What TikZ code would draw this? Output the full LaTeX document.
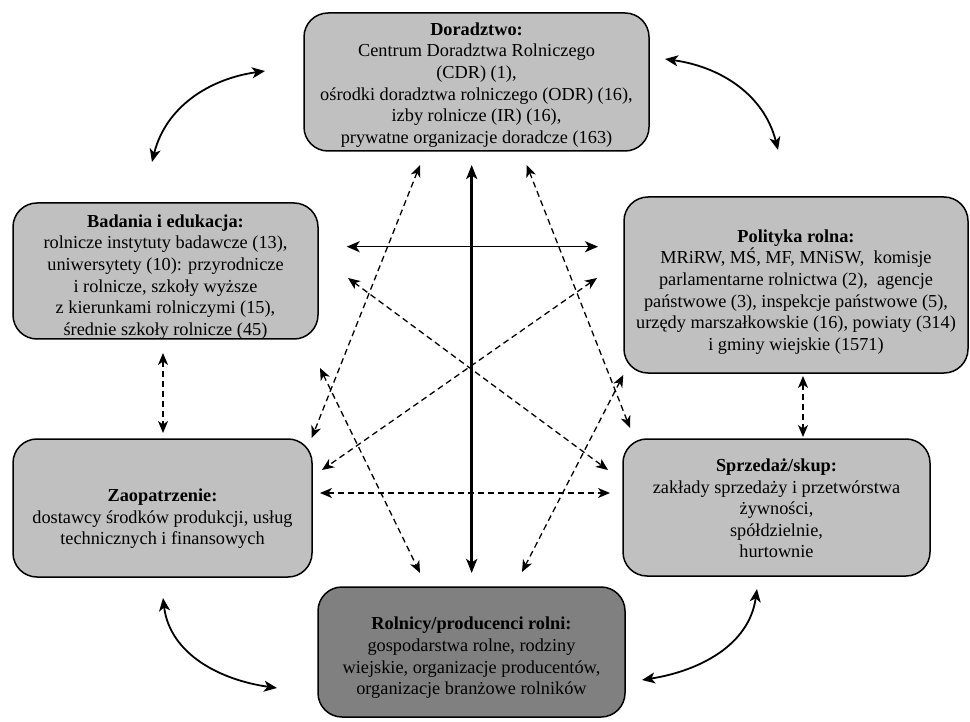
\documentclass[tikz,border=0pt]{standalone}
\usepackage{fontspec}
\setmainfont{Liberation Serif}
\usetikzlibrary{arrows.meta}
\definecolor{boxgray}{RGB}{192,192,192}
\definecolor{darkgray}{RGB}{128,128,128}
\tikzset{
  box/.style={draw=black, line width=1.5pt, rounded corners=24pt, fill=boxgray, inner sep=0pt},
  boxtext/.style={align=center, inner sep=0pt, font=\fontsize{18.3}{21.6}\selectfont},
  curvearrow/.style={line width=1.8pt, {Stealth[length=13pt,width=11pt,inset=3.5pt]}-{Stealth[length=13pt,width=11pt,inset=3.5pt]}},
  dasharrow/.style={line width=1.3pt, dash pattern=on 6pt off 4pt, {Stealth[length=12pt,width=10pt,inset=3.5pt]}-{Stealth[length=12pt,width=10pt,inset=3.5pt]}},
  thickarrow/.style={line width=3pt, {Stealth[length=14pt,width=11pt,inset=3.5pt]}-{Stealth[length=14pt,width=11pt,inset=3.5pt]}},
  thinarrow/.style={line width=1.6pt, {Stealth[length=13pt,width=11pt,inset=3.5pt]}-{Stealth[length=13pt,width=11pt,inset=3.5pt]}}
}
\begin{document}
\begin{tikzpicture}[x=1pt,y=1pt]
\useasboundingbox (0,0) rectangle (970,-722);

\node[box, minimum width=345pt, minimum height=138pt] (dor) at (476.5,-82) {};
\node[boxtext] (dorT) at ([yshift=-3pt]dor.center)
  {\textbf{Doradztwo:}\\Centrum Doradztwa Rolniczego\\(CDR) (1),\\ośrodki doradztwa rolniczego (ODR) (16),\\izby rolnicze (IR) (16),\\prywatne organizacje doradcze (163)};
\node[box, minimum width=305pt, minimum height=136pt] (bad) at (165.5,-271) {};
\node[boxtext] (badT) at ([yshift=-6pt]bad.center)
  {\textbf{Badania i edukacja:}\\rolnicze instytuty badawcze (13),\\uniwersytety (10): przyrodnicze\\i rolnicze, szkoły wyższe\\z kierunkami rolniczymi (15),\\średnie szkoły rolnicze (45)};
\node[box, minimum width=344pt, minimum height=176pt] (pol) at (796,-285) {};
\node[boxtext] (polT) at ([yshift=-7pt]pol.center)
  {\textbf{Polityka rolna:}\\MRiRW, MŚ, MF, MNiSW,\ \ komisje\\parlamentarne rolnictwa (2),\ \ agencje\\państwowe (3), inspekcje państwowe (5),\\urzędy marszałkowskie (16), powiaty (314)\\i gminy wiejskie (1571)};
\node[box, minimum width=299pt, minimum height=138pt] (zao) at (162.5,-508) {};
\node[boxtext] (zaoT) at ([yshift=-11pt]zao.center)
  {\textbf{Zaopatrzenie:}\\dostawcy środków produkcji, usług\\technicznych i finansowych};
\node[box, minimum width=307pt, minimum height=137pt] (spr) at (776.5,-507.5) {};
\node[boxtext] (sprT) at ([yshift=-1pt]spr.center)
  {\textbf{Sprzedaż/skup:}\\zakłady sprzedaży i przetwórstwa\\żywności,\\spółdzielnie,\\hurtownie};
\node[box, fill=darkgray, minimum width=307pt, minimum height=130pt] (rol) at (471.5,-652) {};
\node[boxtext] (rolT) at ([yshift=-6pt]rol.center)
  {\textbf{Rolnicy/producenci rolni:}\\gospodarstwa rolne, rodziny\\wiejskie, organizacje producentów,\\organizacje branżowe rolników};

% endpoints
\coordinate (tlA) at (265,-71);  \coordinate (tlB) at (152,-162);
\coordinate (trA) at (665,-59);  \coordinate (trB) at (778,-150);
\coordinate (blA) at (163,-598); \coordinate (blB) at (277,-688);
\coordinate (brA) at (757,-589); \coordinate (brB) at (642,-680);
\coordinate (vT) at (471.7,-165); \coordinate (vB) at (471.7,-573);
\coordinate (hL) at (346.7,-246.7); \coordinate (hR) at (598,-246.7);
\coordinate (d1a) at (420,-165); \coordinate (d1b) at (311.7,-438);
\coordinate (d2a) at (526.7,-165); \coordinate (d2b) at (630,-428);
\coordinate (d3a) at (348,-278); \coordinate (d3b) at (608,-470);
\coordinate (d4a) at (597,-278); \coordinate (d4b) at (322,-470);
\coordinate (d5a) at (320,-368); \coordinate (d5b) at (420,-573);
\coordinate (d6a) at (623.3,-375); \coordinate (d6b) at (522,-572);
\coordinate (d7a) at (320,-493); \coordinate (d7b) at (610,-493);
\coordinate (lvA) at (163,-353); \coordinate (lvB) at (163,-433);
\coordinate (rvA) at (803,-376); \coordinate (rvB) at (803,-437);

% curved arrows
\draw[curvearrow] (tlA) to[out=188,in=76] (tlB);
\draw[curvearrow] (trA) to[out=-8,in=104] (trB);
\draw[curvearrow] (blA) to[out=-83,in=172] (blB);
\draw[curvearrow] (brA) to[out=262,in=9] (brB);

% central arrows
\draw[thickarrow] (vT) -- (vB);
\draw[thinarrow] (hL) -- (hR);
\draw[dasharrow] (d1a) -- (d1b);
\draw[dasharrow] (d2a) -- (d2b);
\draw[dasharrow] (d3a) -- (d3b);
\draw[dasharrow] (d4a) -- (d4b);
\draw[dasharrow] (d5a) -- (d5b);
\draw[dasharrow] (d6a) -- (d6b);
\draw[dasharrow] (d7a) -- (d7b);
\draw[dasharrow] (lvA) -- (lvB);
\draw[dasharrow] (rvA) -- (rvB);
\end{tikzpicture}
\end{document}
